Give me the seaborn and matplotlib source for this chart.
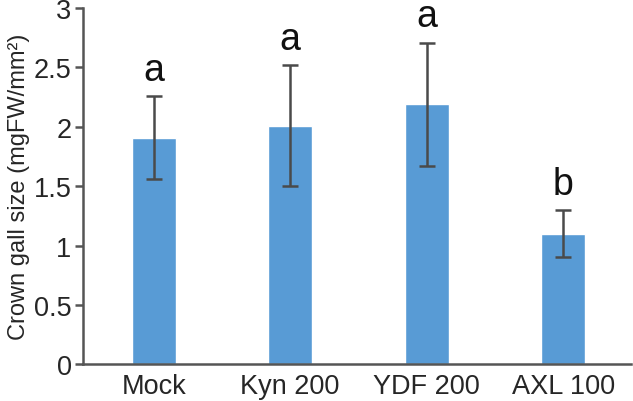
import pandas as pd
import matplotlib
matplotlib.use("Agg")
import matplotlib.pyplot as plt
import seaborn as sns

# values
groups = ["Mock", "Kyn 200", "YDF 200", "AXL 100"]
means = [1.91, 2.01, 2.19, 1.10]
errs = [0.35, 0.51, 0.52, 0.20]
letters = ["a", "a", "a", "b"]

df = pd.DataFrame({"group": groups, "size": means})

sns.set_style("white")
plt.rcParams["font.family"] = ["Liberation Sans", "DejaVu Sans"]

fig = plt.figure(figsize=(6.33, 4.02), dpi=100)
ax = fig.add_axes([0.1306, 0.0913, 0.867, 0.886])

sns.barplot(data=df, x="group", y="size", color="#589BD5", saturation=1,
            width=0.32, errorbar=None, ax=ax)
ax.errorbar(range(len(groups)), means, yerr=errs, fmt="none",
            ecolor="#4a4a4a", elinewidth=1.8, capsize=6, capthick=1.8)

for i, (m, e, t) in enumerate(zip(means, errs, letters)):
    ax.text(i, m + e + 0.07, t, ha="center", va="bottom", fontsize=27,
            color="#111111")

ax.set_xlim(-0.52, 3.5)
ax.set_ylim(0, 3)
ax.set_yticks([0, 0.5, 1, 1.5, 2, 2.5, 3])
ax.set_yticklabels(["0", "0.5", "1", "1.5", "2", "2.5", "3"])
ax.set_xlabel("")
ax.set_ylabel("Crown gall size (mgFW/mm²)", fontsize=17, labelpad=3)

for s in ["top", "right"]:
    ax.spines[s].set_visible(False)
for s in ["left", "bottom"]:
    ax.spines[s].set_color("#555555")
    ax.spines[s].set_linewidth(1.8)

ax.tick_params(axis="y", direction="out", length=6, width=1.8,
               color="#555555", labelsize=19.5, left=True, pad=2)
ax.tick_params(axis="x", length=0, labelsize=19.5, pad=6)

fig.savefig("out.png", dpi=100)
